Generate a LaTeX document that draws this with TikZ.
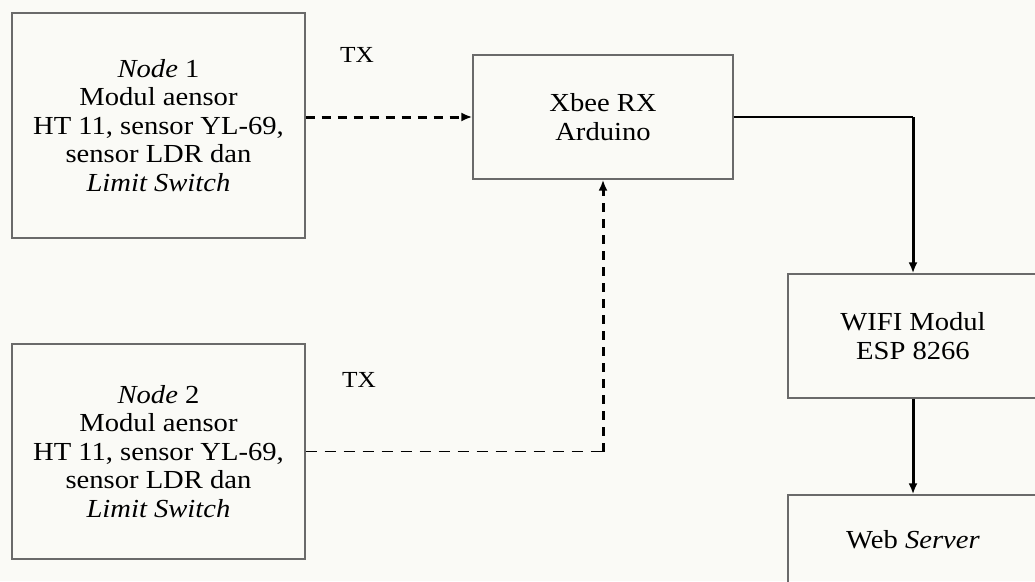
\documentclass[tikz,border=0pt]{standalone}
\usepackage{fontspec}
\setmainfont{Liberation Serif}[FakeStretch=1.1]
\usetikzlibrary{calc, arrows.meta}
\definecolor{paper}{HTML}{FAFAF6}
\definecolor{boxline}{HTML}{6A6A6A}

\begin{document}
\begin{tikzpicture}[x=1pt, y=-1pt]
    \tikzstyle{block} = [rectangle, draw=boxline, line width=1.4pt, inner sep=0pt, align=center, font=\fontsize{26}{28.5}\selectfont]
    \tikzstyle{radio} = [line width=3pt, dash pattern=on 9pt off 7pt]
    \tikzstyle{radiothin} = [line width=1.8pt, dash pattern=on 11pt off 8pt]
    \tikzstyle{tip} = [-{Latex[length=11pt, width=9pt]}]

    \useasboundingbox (0, 0) rectangle (1035, 581);
    \fill[paper] (0, 0) rectangle (1035, 581);

    % Sensor nodes ----------------------------------------
    \node (node1) at (158.5, 125.5) [block, minimum width=293pt, minimum height=225pt]
        {\textit{Node} 1\\Modul aensor\\HT 11, sensor YL-69,\\sensor LDR dan\\\textit{Limit Switch}};
    \node (node2) at (158.5, 451.5) [block, minimum width=293pt, minimum height=215pt]
        {\textit{Node} 2\\Modul aensor\\HT 11, sensor YL-69,\\sensor LDR dan\\\textit{Limit Switch}};

    \node (tx1) at (357, 55) {\fontsize{23}{24}\selectfont TX};
    \node (tx2) at (359, 380) {\fontsize{23}{24}\selectfont TX};

    % Receiver and upload ---------------------------------
    \node (xbee) at (603, 117) [block, minimum width=260pt, minimum height=124pt] {Xbee RX\\Arduino};
    \node (wifi) at (913, 336) [block, minimum width=250pt, minimum height=124pt] {WIFI Modul\\ESP 8266};
    \node (web) at (913, 540) [block, minimum width=250pt, minimum height=90pt] {Web \textit{Server}};
    % -----------------------------------------------------

    % Links
    \draw [radio, tip] (node1.east |- xbee.west) -- (xbee.west);

    \coordinate (turn) at (xbee.south |- node2.east);
    \draw [radiothin] (node2.east) -- (turn);
    \draw [radio, tip] (turn) -- (xbee.south);

    \coordinate (corner) at (wifi.north |- xbee.east);
    \draw [line width=1.8pt] (xbee.east) -- (corner);
    \draw [line width=3pt, tip] (corner) -- (wifi.north);

    \draw [line width=3pt, tip] (wifi.south) -- (web.north);
\end{tikzpicture}
\end{document}
